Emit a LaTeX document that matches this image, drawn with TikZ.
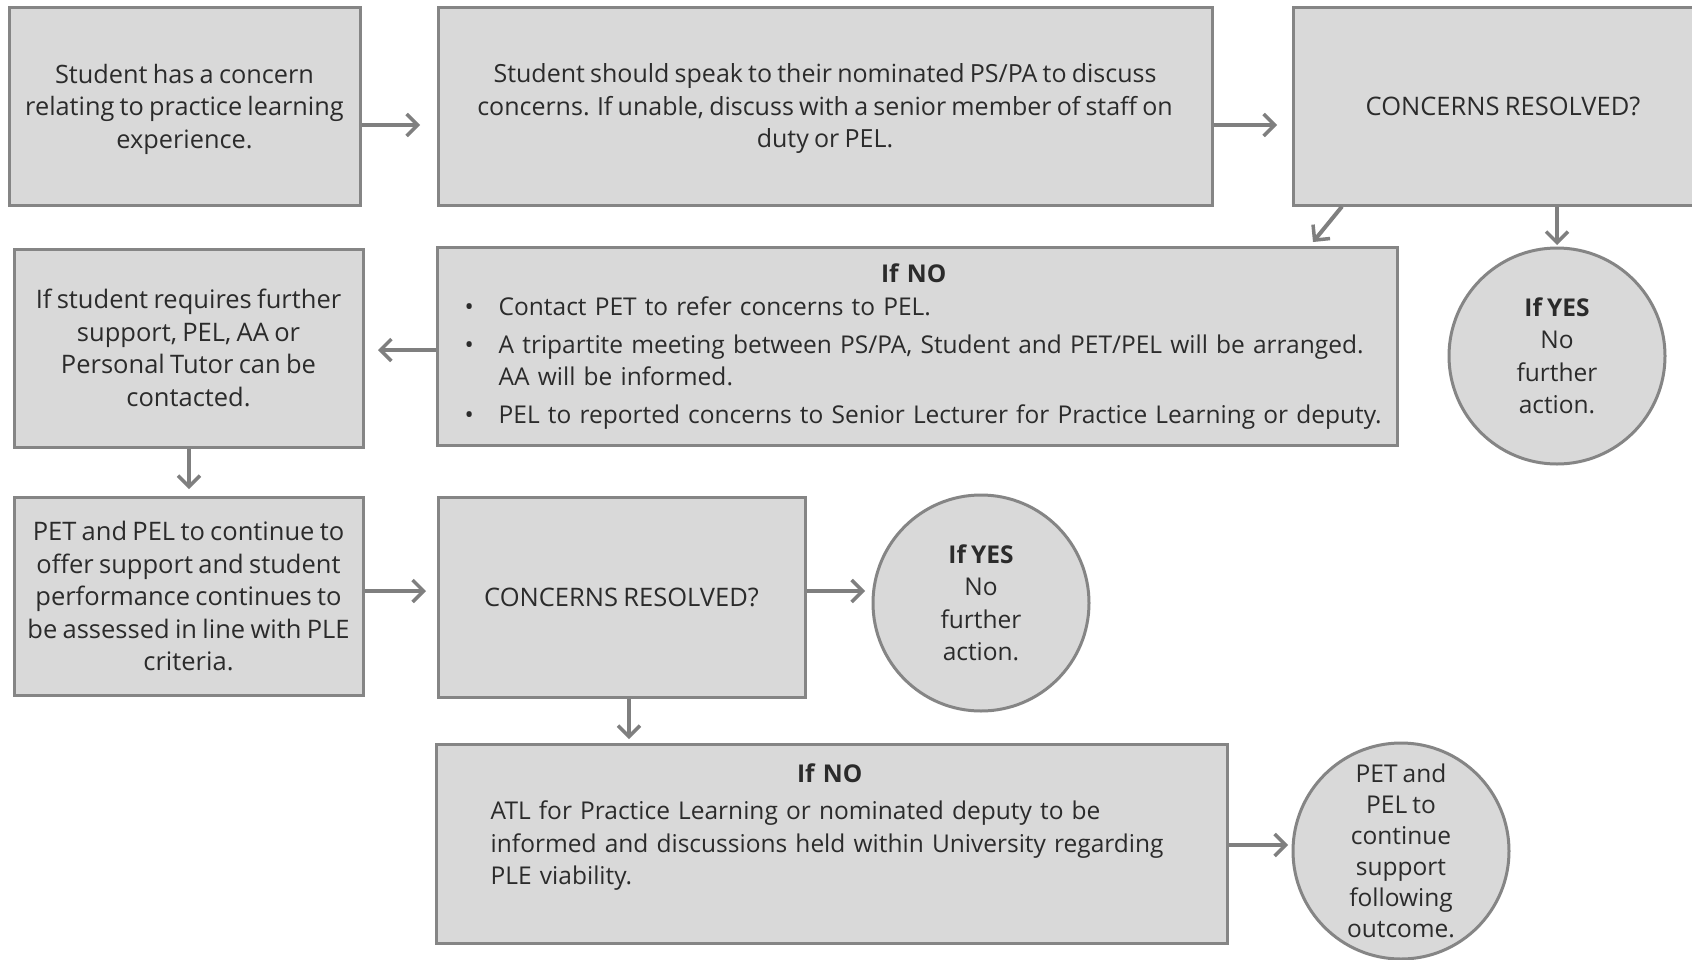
\documentclass[tikz,border=0pt]{standalone}
\usepackage{fontspec}
\setmainfont{Open Sans}[WordSpace=0.8]
\usetikzlibrary{arrows.meta}
\definecolor{boxfill}{HTML}{D9D9D9}
\definecolor{boxline}{HTML}{858585}
\definecolor{arrowgray}{HTML}{7F7F7F}
\definecolor{txtcol}{HTML}{2B2B2B}
\newcommand{\bodyfont}{\fontsize{24.5}{32.5}\selectfont}
\newcommand{\bulletitem}[1]{{\leftskip=34pt\noindent\llap{\makebox[34pt][l]{\textbullet}}#1\par}}
\tikzset{
  box/.style={draw=boxline, line width=3pt, fill=boxfill, inner sep=0pt, align=center, text=txtcol,
    font=\bodyfont},
  fs/.style={font=\fontsize{#1}{32.5}\selectfont},
  txt/.style={inner sep=0pt, text=txtcol, font=\bodyfont, align=left},
  ctxt/.style={inner sep=0pt, text=txtcol, font=\bodyfont, align=center},
  roundbox/.style={box, circle, minimum size=216pt},
  arr/.style={draw=arrowgray, line width=4pt, -{Straight Barb[length=11pt,width=22pt,line width=3.5pt]}},
}
\begin{document}
\begin{tikzpicture}[x=1pt,y=-1pt]
\useasboundingbox (0,0) rectangle (1692,959);
\fill[white] (0,0) rectangle (1692,959);
% row 1
\node[box, minimum width=351pt, minimum height=198pt] (A) at (184.5,106) {};
\node[ctxt, fs=25.3] (At) at ([yshift=-3pt]A.center)
  {Student has a concern\\relating to practice learning\\experience.};
\node[box, minimum width=774pt, minimum height=198pt] (B) at (825,106) {};
\node[ctxt, fs=25] (Bt) at ([yshift=-3pt]B.center)
  {Student should speak to their nominated PS/PA to discuss\\concerns. If unable, discuss with a senior member of staff on\\duty or PEL.};
\node[box, fs=25.5, minimum width=420pt, minimum height=198pt] (C) at (1503,106)
  {CONCERNS RESOLVED?};
% row 2
\node[box, fs=25.5, minimum width=349pt, minimum height=198pt] (D) at (188.5,348)
  {If student requires further\\support, PEL, AA or\\Personal Tutor can be\\contacted.};
\node[box, minimum width=960pt, minimum height=198pt] (E) at (917,346) {};
\node[txt, anchor=base west, text width=940pt] (Et) at ([xshift=29pt,yshift=-37pt]E.north west)
  {\makebox[898pt][c]{\bfseries If NO}\par
   \bulletitem{Contact PET to refer concerns to PEL.}\vspace{5.5pt}
   \bulletitem{A tripartite meeting between PS/PA, Student and PET/PEL will be arranged.\\AA will be informed.}\vspace{5.5pt}
   \bulletitem{PEL to reported concerns to Senior Lecturer for Practice Learning or deputy.}};
\node[roundbox] (F) at (1557,356)
  {\textbf{If YES}\\No\\further\\action.};
% row 3
\node[box, fs=25.5, minimum width=349pt, minimum height=198pt] (G) at (188.5,596)
  {PET and PEL to continue to\\offer support and student\\performance continues to\\be assessed in line with PLE\\criteria.};
\node[box, fs=25.5, minimum width=367pt, minimum height=200pt] (H) at (621.5,597)
  {CONCERNS RESOLVED?};
\node[roundbox] (I) at (981,603)
  {\textbf{If YES}\\No\\further\\action.};
% row 4
\node[box, minimum width=791pt, minimum height=199pt] (J) at (831.5,843.5) {};
\node[txt, anchor=base west, text width=730pt] (Jt) at ([xshift=56pt,yshift=-40pt]J.north west)
  {\makebox[678pt][c]{\bfseries If NO}\par\vspace{4.5pt}
   ATL for Practice Learning or nominated deputy to be\\
   informed and discussions held within University regarding\\
   PLE viability.};
\node[roundbox, font=\fontsize{24.5}{31}\selectfont] (K) at (1401,851)
  {PET and\\PEL to\\continue\\support\\following\\outcome.};
% connectors
\coordinate (AB) at (420,125);
\coordinate (BC) at (1277,125);
\coordinate (CE) at (1313,242);
\coordinate (CF) at (1557,245);
\coordinate (ED) at (378,350);
\coordinate (DG) at (189,489);
\coordinate (GH) at (426,591);
\coordinate (HI) at (865,591);
\coordinate (HJ) at (629,739);
\coordinate (JK) at (1288,845);
\draw[arr] (A.east |- AB) -- (AB);
\draw[arr] (B.east |- BC) -- (BC);
\draw[arr] ([xshift=-161pt]C.south) -- (CE);
\draw[arr] (C.south -| CF) -- (CF);
\draw[arr] (E.west |- ED) -- (ED);
\draw[arr] (D.south -| DG) -- (DG);
\draw[arr] (G.east |- GH) -- (GH);
\draw[arr] (H.east |- HI) -- (HI);
\draw[arr] (H.south -| HJ) -- (HJ);
\draw[arr] (J.east |- JK) -- (JK);
\end{tikzpicture}
\end{document}
